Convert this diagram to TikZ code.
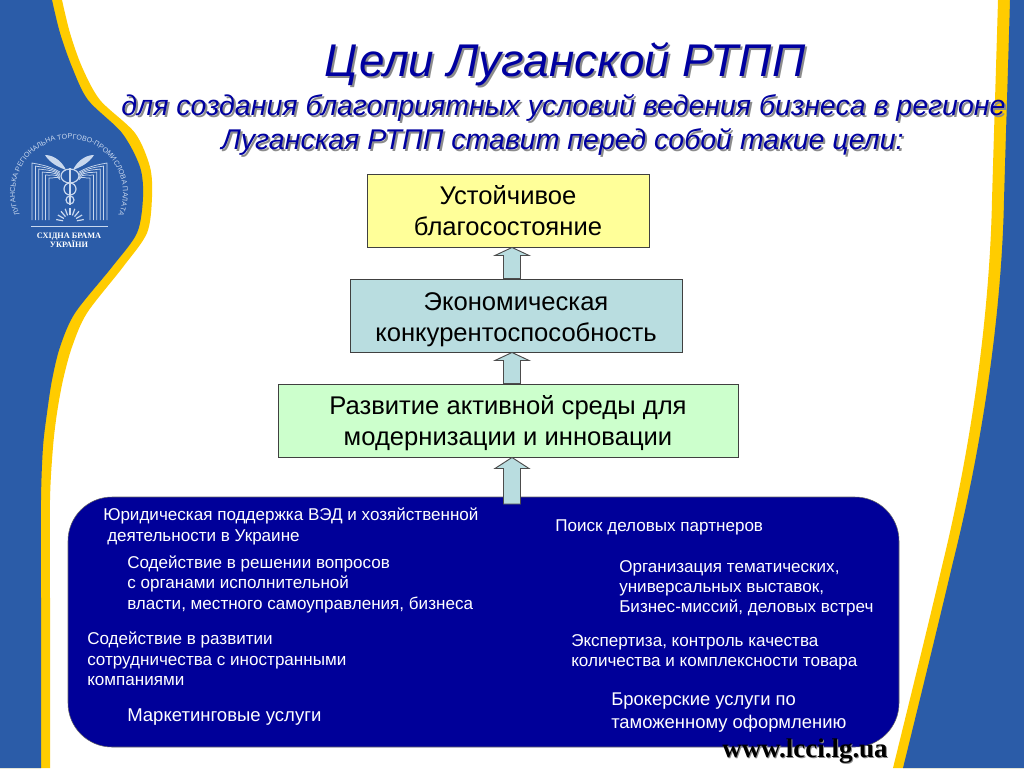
\documentclass[tikz,border=0pt]{standalone}
\usepackage{fontspec}
\setmainfont{Liberation Sans}
\newfontfamily\serifb{Liberation Serif}[BoldFont={Liberation Serif Bold}]
\usetikzlibrary{calc,decorations.text}
\definecolor{sideblue}{HTML}{2B5CA8}
\definecolor{sideyellow}{HTML}{FFCC00}
\definecolor{titleblue}{HTML}{0000A0}
\definecolor{panelblue}{HTML}{000099}
\definecolor{boxyellow}{HTML}{FFFF99}
\definecolor{boxteal}{HTML}{B9DDE0}
\definecolor{boxgreen}{HTML}{CCFFCC}
\definecolor{logoline}{HTML}{C9D8EE}
\tikzset{
  x=0.75pt,y=-0.75pt,
  goalbox/.style={draw=black!75,line width=0.7pt,minimum height=54.75pt,align=center,text=black,font=\fontsize{19.2}{23.2}\selectfont,inner sep=0pt},
  paneltext/.style={anchor=north west,inner sep=0pt,align=left,text=white,font=\fontsize{12.8}{15.3}\selectfont},
  blockarrow/.style={draw=black!70,fill=boxteal,line width=0.7pt,line join=miter},
  titletext/.style={inner sep=0pt,text=titleblue,align=center,font=\itshape\fontsize{21.4}{1}\selectfont},
  titleshadow/.style={titletext,text=black!45},
  logo/.style={draw=logoline,line width=0.55pt},
}
\newcommand{\upblock}[3]{%
  \draw[blockarrow] ($(axis |- #2.south)$) -- ($(axis |- #2.south)+(17,#3)$) -- ($(axis |- #2.south)+(8.5,#3)$)
   -- ($(axis |- #1.north)+(8.5,0)$) -- ($(axis |- #1.north)+(-8.5,0)$)
   -- ($(axis |- #2.south)+(-8.5,#3)$) -- ($(axis |- #2.south)+(-17,#3)$) -- cycle;}
\begin{document}
\begin{tikzpicture}
\useasboundingbox (0,0) rectangle (1024,768);
\fill[white] (0,0) rectangle (1024,768);
% left band
\fill[sideyellow] (0,0) -- plot[smooth] coordinates {(62,0) (70,33) (82,67) (100,100) (135,133) (150,167) (152,197) (147,233) (123,267) (87,313) (72,347) (63,380) (57,413) (53,447) (50,500) (50,600) (50,768)} -- (0,768) -- cycle;
\fill[sideblue] (0,0) -- plot[smooth] coordinates {(52,0) (60,33) (72,67) (88,100) (122,133) (140,167) (143,197) (137,233) (112,267) (75,313) (60,347) (52,380) (47,413) (43,447) (41,500) (41,600) (41,768)} -- (0,768) -- cycle;
% right band
\fill[sideyellow] (1024,0) -- (998,0) .. controls (996,70) and (994,130) .. (992,200)
  .. controls (990,300) and (975,430) .. (943,562) .. controls (927,630) and (908,707) .. (893,768) -- (1024,768) -- cycle;
\fill[sideblue] (1024,0) -- (1010,0) .. controls (1008,70) and (1006,130) .. (1004,200)
  .. controls (1002,300) and (986,430) .. (953,562) .. controls (937,630) and (918,707) .. (903,768) -- (1024,768) -- cycle;
% logo
\path[postaction={decorate,decoration={text along path,text align=center,
   text={|\fontsize{5.35}{7}\selectfont\color{logoline}|ЛУГАНСЬКА РЕГІОНАЛЬНА ТОРГОВО-ПРОМИСЛОВА ПАЛАТА}}}]
   (20.9,217.5) arc[start angle=153,delta angle=234,radius=54];
\foreach \k in {0,...,5}{
  \draw[logo] ({32+3.4*\k},220) -- ({32+3.4*\k},{163+3*\k}) .. controls ({36+3.4*\k},{164+3*\k}) and ({48+2*\k},{165+2*\k}) .. ({60},{172+1.5*\k});
  \draw[logo] ({107-3.4*\k},220) -- ({107-3.4*\k},{163+3*\k}) .. controls ({103-3.4*\k},{164+3*\k}) and ({91-2*\k},{165+2*\k}) .. ({79},{172+1.5*\k});
}
\fill[logoline] (45,155) .. controls (55,155) and (63,163) .. (66,170) .. controls (58,167) and (50,163) .. cycle;
\fill[logoline] (94,155) .. controls (84,155) and (76,163) .. (73,170) .. controls (81,167) and (89,163) .. cycle;
\draw[logo,line width=0.9pt] (70,168) -- (70,205);
\draw[logo,line width=0.9pt] (70,176) circle[x radius=9,y radius=7];
\draw[logo,line width=0.9pt] (70,189) circle[x radius=6,y radius=6];
\draw[logo,line width=0.9pt] (70,200) circle[x radius=4,y radius=4];
\foreach \a in {10,30,...,170}{
  \draw[logo,line width=0.9pt] ($(70,222)+(-\a:7)$) -- ($(70,222)+(-\a:14)$);
}
\draw[logo] (31,226) -- (108,226);
\node[inner sep=0pt,text=white,align=center,font=\serifb\bfseries\fontsize{6.2}{7}\selectfont] (logotext) at (69,240) {СХІДНА БРАМА\\УКРАЇНИ};
% titles
\node[titleshadow] (t1s) at (567,66) {\fontsize{34.4}{1}\selectfont Цели Луганской РТПП};
\node[titletext] (t1) at (565,64) {\fontsize{34.4}{1}\selectfont Цели Луганской РТПП};
\node[titleshadow] (t2s) at (565.5,109.5) {для создания благоприятных условий ведения бизнеса в регионе};
\node[titletext] (t2) at (563.5,107.5) {для создания благоприятных условий ведения бизнеса в регионе};
\node[titleshadow] (t3s) at (564.5,144) {Луганская РТПП ставит перед собой такие цели:};
\node[titletext] (t3) at (562.5,142) {Луганская РТПП ставит перед собой такие цели:};
% boxes
\coordinate (axis) at (512,0);
\node[goalbox,fill=boxyellow,minimum width=211.5pt] (b1) at (508,210.5) {Устойчивое\\благосостояние};
\node[goalbox,fill=boxteal,minimum width=249pt] (b2) at (516,315.5) {\rule{0pt}{19.5pt}Экономическая\\конкурентоспособность};
\node[goalbox,fill=boxgreen,minimum width=345pt] (b3) at (508,420.5) {\rule{0pt}{18pt}Развитие активной среды для\\модернизации и инновации};
\node[draw=black!60,fill=panelblue,minimum width=623.25pt,minimum height=187.5pt,rounded corners=33pt,inner sep=0pt] (panel) at (483.5,622) {};
\upblock{b2}{b1}{8}
\upblock{b3}{b2}{8}
\coordinate (panelin) at (512,504);
\draw[blockarrow] (axis |- b3.south) -- ($(axis |- b3.south)+(17,11)$) -- ($(axis |- b3.south)+(8.5,11)$)
  -- ($(panelin)+(8.5,0)$) -- ($(panelin)+(-8.5,0)$) -- ($(axis |- b3.south)+(-8.5,11)$) -- ($(axis |- b3.south)+(-17,11)$) -- cycle;
% panel text
\node[paneltext] (pa) at (103,508) {Юридическая поддержка ВЭД и хозяйственной\\\hspace*{3pt}деятельности в Украине};
\node[paneltext] (pb) at (127,555.5) {Содействие в решении вопросов\\с органами исполнительной\\власти, местного самоуправления, бизнеса};
\node[paneltext] (pc) at (87,632) {Содействие в развитии\\сотрудничества с иностранными\\компаниями};
\node[paneltext,font=\fontsize{13.9}{17}\selectfont] (pd) at (127,708) {Маркетинговые услуги};
\node[paneltext] (pe) at (555,519) {Поиск деловых партнеров};
\node[paneltext] (pf) at (619,560) {Организация тематических,\\универсальных выставок,\\Бизнес-миссий, деловых встреч};
\node[paneltext] (pg) at (571,634) {Экспертиза, контроль качества\\количества и комплексности товара};
\node[paneltext,font=\fontsize{13.8}{17.2}\selectfont] (ph) at (611,693) {Брокерские услуги по\\таможенному оформлению};
% web address
\node[inner sep=0pt,text=black!45,font=\serifb\bfseries\fontsize{20.2}{20}\selectfont] (ws) at (806,752) {www.lcci.lg.ua};
\node[inner sep=0pt,text=black,font=\serifb\bfseries\fontsize{20.2}{20}\selectfont] (w) at (805,751) {www.lcci.lg.ua};
\end{tikzpicture}
\end{document}
